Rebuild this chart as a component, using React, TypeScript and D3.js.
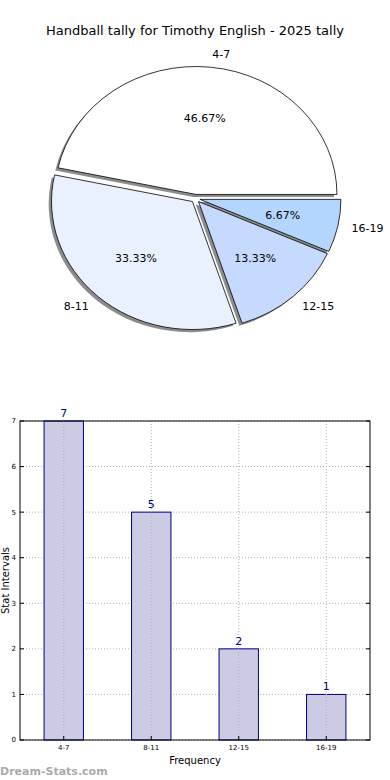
import React, { useEffect, useRef } from "react"
import * as d3 from "d3"

// chart data
const categories = ["4-7", "8-11", "12-15", "16-19"]
const counts = [7, 5, 2, 1]
const sliceColors = ["#ffffff", "#eaf1fe", "#c6d9fe", "#b3d5fe"]
const yTicks = [0, 1, 2, 3, 4, 5, 6, 7]

const W = 390
const H = 780

export default function App() {
    const svgRef = useRef<SVGSVGElement>(null)

    useEffect(() => {
        const svg = d3.select(svgRef.current)
        svg.selectAll("*").remove()
        const font = "DejaVu Sans, sans-serif"

        // title
        svg.append("text")
            .attr("x", W / 2)
            .attr("y", 35)
            .attr("text-anchor", "middle")
            .style("font-family", font)
            .style("font-size", "13px")
            .text("Handball tally for Timothy English - 2025 tally")

        // ---- pie ----
        const cx = 195.5, cy = 198.5
        const rx = 141, ry = 128
        const explode = 0.032
        const total = d3.sum(counts)

        // matplotlib style: start at 3 o'clock, counter-clockwise
        const pie = d3.pie<number>()
            .sort(null)
            .startAngle(Math.PI / 2)
            .endAngle(Math.PI / 2 - 2 * Math.PI)
        const arcs = pie(counts)
        const arc = d3.arc<d3.PieArcDatum<number>>().innerRadius(0).outerRadius(1)

        const pieG = svg.append("g")
        const offset = (d: d3.PieArcDatum<number>, k: number) => {
            const a = (d.startAngle + d.endAngle) / 2
            return [cx + Math.sin(a) * rx * k, cy - Math.cos(a) * ry * k]
        }

        // shadows first
        arcs.forEach(d => {
            const [ox, oy] = offset(d, explode)
            pieG.append("path")
                .attr("d", arc(d))
                .attr("transform", `translate(${ox - 2.8},${oy + 2.6}) scale(${rx},${ry})`)
                .attr("fill", "#8c8c8c")
        })
        arcs.forEach((d, i) => {
            const [ox, oy] = offset(d, explode)
            pieG.append("path")
                .attr("d", arc(d))
                .attr("transform", `translate(${ox},${oy}) scale(${rx},${ry})`)
                .attr("fill", sliceColors[i])
                .attr("stroke", "#000")
                .attr("stroke-width", 0.8)
                .attr("vector-effect", "non-scaling-stroke")
        })
        arcs.forEach((d, i) => {
            const a = (d.startAngle + d.endAngle) / 2
            const [ox, oy] = offset(d, explode)
            const lx = ox + Math.sin(a) * rx * 1.1
            const ly = oy - Math.cos(a) * ry * 1.1
            pieG.append("text")
                .attr("x", lx)
                .attr("y", ly)
                .attr("dy", "0.35em")
                .attr("text-anchor", Math.sin(a) >= 0 ? "start" : "end")
                .style("font-family", font)
                .style("font-size", "11px")
                .text(categories[i])
            const px = ox + Math.sin(a) * rx * 0.6
            const py = oy - Math.cos(a) * ry * 0.6
            pieG.append("text")
                .attr("x", px)
                .attr("y", py)
                .attr("dy", "0.35em")
                .attr("text-anchor", "middle")
                .style("font-family", font)
                .style("font-size", "11px")
                .text(d3.format(".2f")((counts[i] / total) * 100) + "%")
        })

        // ---- bar chart ----
        const left = 20, right = 370, top = 421, bottom = 740
        const x = d3.scaleBand<string>()
            .domain(categories)
            .range([left, right])
            .paddingInner(0.55)
            .paddingOuter(0.275)
        const y = d3.scaleLinear().domain([0, 7]).range([bottom, top])

        const g = svg.append("g")

        // grid
        g.selectAll("line.hgrid").data(yTicks).join("line")
            .attr("class", "hgrid")
            .attr("x1", left).attr("x2", right)
            .attr("y1", d => y(d)).attr("y2", d => y(d))
            .attr("stroke", "#b0b0b0")
            .attr("stroke-width", 1)
            .attr("stroke-dasharray", "1,2")

        // bars
        g.selectAll("rect.bar").data(counts).join("rect")
            .attr("class", "bar")
            .attr("x", (d, i) => x(categories[i])!)
            .attr("width", x.bandwidth())
            .attr("y", d => y(d))
            .attr("height", d => bottom - y(d))
            .attr("fill", "#cbcbe4")
            .attr("stroke", "#000080")
            .attr("stroke-width", 1)

        g.selectAll("line.vgrid").data(categories).join("line")
            .attr("class", "vgrid")
            .attr("x1", d => x(d)! + x.bandwidth() / 2)
            .attr("x2", d => x(d)! + x.bandwidth() / 2)
            .attr("y1", top).attr("y2", bottom)
            .attr("stroke", "#b0b0b0")
            .attr("stroke-width", 1)
            .attr("stroke-dasharray", "1,2")

        // value labels
        g.selectAll("text.val").data(counts).join("text")
            .attr("class", "val")
            .attr("x", (d, i) => x(categories[i])! + x.bandwidth() / 2)
            .attr("y", d => y(d) - 4)
            .attr("text-anchor", "middle")
            .attr("fill", "#000080")
            .style("font-family", font)
            .style("font-size", "11px")
            .text(d => d)

        // frame
        g.append("rect")
            .attr("x", left).attr("y", top)
            .attr("width", right - left).attr("height", bottom - top)
            .attr("fill", "none")
            .attr("stroke", "#000")
            .attr("stroke-width", 1)

        // y ticks
        yTicks.forEach(t => {
            g.append("line")
                .attr("x1", left).attr("x2", left + 4)
                .attr("y1", y(t)).attr("y2", y(t))
                .attr("stroke", "#000")
            g.append("line")
                .attr("x1", right).attr("x2", right - 4)
                .attr("y1", y(t)).attr("y2", y(t))
                .attr("stroke", "#000")
            g.append("text")
                .attr("x", left - 4)
                .attr("y", y(t))
                .attr("dy", "0.35em")
                .attr("text-anchor", "end")
                .style("font-family", font)
                .style("font-size", "7px")
                .text(t)
        })

        // x ticks
        categories.forEach(c => {
            const cxp = x(c)! + x.bandwidth() / 2
            g.append("line")
                .attr("x1", cxp).attr("x2", cxp)
                .attr("y1", bottom).attr("y2", bottom - 4)
                .attr("stroke", "#000")
            g.append("text")
                .attr("x", cxp)
                .attr("y", bottom + 10)
                .attr("text-anchor", "middle")
                .style("font-family", font)
                .style("font-size", "7px")
                .text(c)
        })

        // axis labels
        g.append("text")
            .attr("x", (left + right) / 2)
            .attr("y", 764)
            .attr("text-anchor", "middle")
            .style("font-family", font)
            .style("font-size", "10px")
            .text("Frequency")
        g.append("text")
            .attr("transform", `translate(9,${(top + bottom) / 2}) rotate(-90)`)
            .attr("text-anchor", "middle")
            .style("font-family", font)
            .style("font-size", "10px")
            .text("Stat Intervals")

        // watermark
        svg.append("text")
            .attr("x", 0)
            .attr("y", 775)
            .attr("fill", "#aaaaaa")
            .style("font-family", font)
            .style("font-size", "11px")
            .style("font-weight", "bold")
            .text("Dream-Stats.com")
    }, [])

    return (
        <div style={{ position: "absolute", left: 0, top: 0 }}>
            <svg ref={svgRef} width={W} height={H} style={{ display: "block", background: "#fff" }} />
        </div>
    )
}
